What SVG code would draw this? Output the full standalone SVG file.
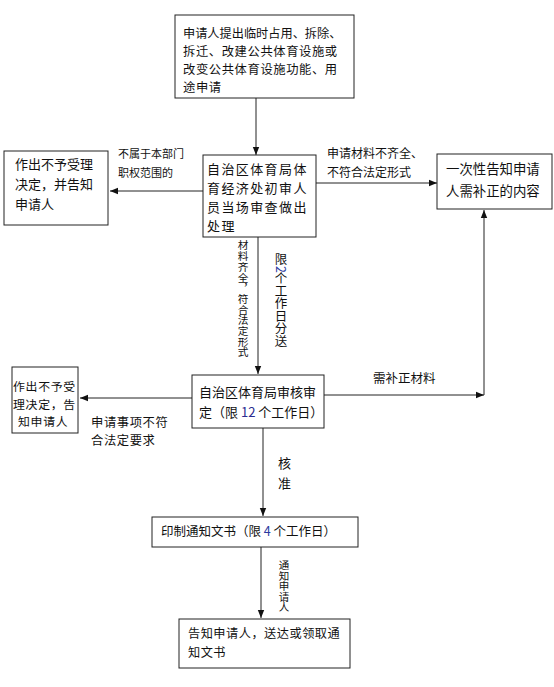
<svg xmlns="http://www.w3.org/2000/svg" width="554" height="687" viewBox="0 0 554 687">
<style>
  text { font-family: "Noto Sans CJK SC", "Noto Sans", sans-serif; fill: #111; }
  .box { fill: #fff; stroke: #222; stroke-width: 1; }
  .ln { stroke: #222; stroke-width: 1; fill: none; marker-end: url(#ah); }
  .vt { writing-mode: vertical-rl; }
</style>
<defs>
  <marker id="ah" viewBox="0 0 8 8" refX="8" refY="4" markerWidth="8" markerHeight="8" markerUnits="userSpaceOnUse" orient="auto">
    <path d="M0,0.8 L8,4 L0,7.2 Z" fill="#111"/>
  </marker>
</defs>
<rect width="554" height="687" fill="#fff"/>

<g id="connectors">
  <line class="ln" x1="256" y1="98" x2="256" y2="155"/>
  <line class="ln" x1="203" y1="191" x2="110" y2="191"/>
  <line class="ln" x1="316" y1="183" x2="437" y2="183"/>
  <line class="ln" x1="258" y1="237" x2="258" y2="374"/>
  <line class="ln" x1="324" y1="395" x2="484" y2="395"/>
  <line class="ln" x1="484" y1="395" x2="484" y2="210"/>
  <line class="ln" x1="192" y1="398" x2="80" y2="398"/>
  <line class="ln" x1="263" y1="428" x2="263" y2="516"/>
  <line class="ln" x1="261" y1="547" x2="261" y2="618"/>
  <text x="118" y="158" font-size="11">不属于本部门</text>
  <text x="118" y="177" font-size="11">职权范围的</text>
  <text x="327" y="158" font-size="12">申请材料不齐全、</text>
  <text x="327" y="177" font-size="12">不符合法定形式</text>
  <text class="vt" x="243" y="240" font-size="10.7">材料齐全，符合法定形式</text>
  <text class="vt" x="281" y="253" font-size="12.5">限<tspan fill="#2a3aa0">2</tspan>个工作日分送</text>
  <text x="373" y="383" font-size="12.5">需补正材料</text>
  <text x="91" y="427" font-size="12.3" letter-spacing="0.6">申请事项不符</text>
  <text x="91" y="445" font-size="12.3" letter-spacing="0.6">合法定要求</text>
  <text x="278" y="468" font-size="13">核</text>
  <text x="278" y="488" font-size="13">准</text>
  <text class="vt" x="284" y="560" font-size="10.5">通知申请人</text>
</g>

<g id="apply">
  <rect class="box" x="175" y="15" width="179" height="83"/>
  <text x="183" y="38" font-size="12.2">申请人提出临时占用、拆除、</text>
  <text x="183" y="56" font-size="12.3" letter-spacing="0.6">拆迁、改建公共体育设施或</text>
  <text x="183" y="74" font-size="12.3" letter-spacing="0.6">改变公共体育设施功能、用</text>
  <text x="183" y="92" font-size="12.3" letter-spacing="0.6">途申请</text>
</g>

<g id="initial">
  <rect class="box" x="203" y="155" width="113" height="82"/>
  <text x="207" y="174" font-size="13" letter-spacing="1.4">自治区体育局体</text>
  <text x="207" y="193" font-size="13" letter-spacing="1.4">育经济处初审人</text>
  <text x="207" y="212" font-size="13" letter-spacing="1.4">员当场审查做出</text>
  <text x="207" y="231" font-size="13" letter-spacing="1.4">处理</text>
</g>

<g id="reject1">
  <rect class="box" x="4" y="151" width="104" height="74"/>
  <text x="15" y="169" font-size="13">作出不予受理</text>
  <text x="15" y="189" font-size="13">决定，并告知</text>
  <text x="15" y="209" font-size="13">申请人</text>
</g>

<g id="notify">
  <rect class="box" x="437" y="154" width="115" height="55"/>
  <text x="446" y="174" font-size="13.4">一次性告知申请</text>
  <text x="446" y="196" font-size="13.4">人需补正的内容</text>
</g>

<g id="review">
  <rect class="box" x="192" y="375" width="132" height="53"/>
  <text x="199" y="397" font-size="13">自治区体育局审核审</text>
  <text x="199" y="417" font-size="13">定（限 <tspan fill="#2a2a90">12</tspan> 个工作日）</text>
</g>

<g id="reject2">
  <rect class="box" x="12" y="367" width="66" height="66"/>
  <text x="13" y="391" font-size="11.9" letter-spacing="0.7">作出不予受</text>
  <text x="13" y="408.5" font-size="11.9" letter-spacing="0.7">理决定，告</text>
  <text x="18" y="426" font-size="11.9" letter-spacing="0.7">知申请人</text>
</g>

<g id="print">
  <rect class="box" x="152" y="517" width="206" height="30"/>
  <text x="161" y="536" font-size="12.5">印制通知文书（限 <tspan fill="#2a3aa0">4</tspan> 个工作日）</text>
</g>

<g id="deliver">
  <rect class="box" x="179" y="619" width="171" height="49"/>
  <text x="188" y="638" font-size="12.2" letter-spacing="0.5">告知申请人，送达或领取通</text>
  <text x="188" y="656.5" font-size="12.2" letter-spacing="0.5">知文书</text>
</g>
</svg>
